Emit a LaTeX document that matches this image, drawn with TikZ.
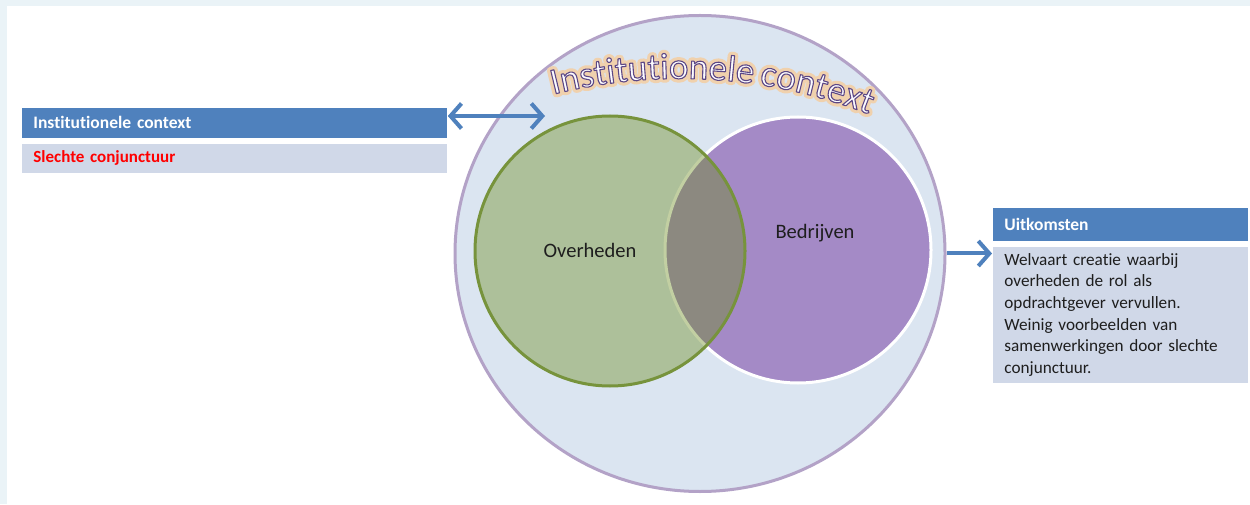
\documentclass[tikz,border=0pt]{standalone}
\usepackage{fontspec}
\setmainfont{Carlito}[Ligatures=CommonOff,WordSpace=0.75]
\usetikzlibrary{arrows.meta,decorations.text,shapes.geometric}

\definecolor{frameblue}{HTML}{EAF3F7}
\definecolor{ctxfill}{HTML}{DBE5F1}
\definecolor{ctxline}{HTML}{B3A2C7}
\definecolor{govfill}{RGB}{104,137,24}
\definecolor{govline}{HTML}{77933C}
\definecolor{bizfill}{HTML}{A48AC6}
\definecolor{hdrblue}{HTML}{4F81BD}
\definecolor{bodyblue}{HTML}{D0D8E8}
\definecolor{txtdark}{HTML}{1E1E1E}
\definecolor{glowin}{HTML}{F0D2AE}
\definecolor{wordfill}{HTML}{FCFBFF}

% font of the arched title
\newcommand\arcfont{\fontsize{37}{37}\selectfont}
% glyph painting: fill and stroke, with stroke colour and width given
\newcommand\strokeglyphs[2]{\special{pdf:literal direct #1 RG #2 w 1 j 2 Tr}}
% the arched title, glyphs in colour #1, stroked with colour #2 at width #3
\newcommand\ctxarc[3]{%
  \path[decorate,decoration={text along path,text align=center,text color=#1,
        text={|\arcfont\color{#1}\strokeglyphs{#2}{#3}|Institutionele context}}]
    (ctxA) arc[start angle=110,end angle=62.8,radius=520pt];}

\begin{document}
\begin{tikzpicture}[x=1pt,y=1pt,
  hdr/.style={draw=white,line width=0.8pt,fill=hdrblue,text=white,
    font=\fontsize{17.5}{21}\selectfont\bfseries,anchor=north west,
    inner xsep=12pt,inner ysep=0pt,align=left},
  bodybox/.style={draw=white,line width=0.8pt,fill=bodyblue,anchor=north west,
    inner xsep=12pt,inner ysep=0pt,align=left},
  lbl/.style={text=txtdark,font=\fontsize{20.5}{24}\selectfont,inner sep=0pt},
  conn/.style={draw=hdrblue,line width=4pt,>={Straight Barb[length=11pt,width=25pt]}}]

\useasboundingbox (0,0) rectangle (1250,504);
\fill[white] (0,0) rectangle (1250,504);
\fill[frameblue] (0,498) rectangle (1250,504);
\fill[frameblue] (0,0) rectangle (7,504);

% context ellipse and the two sets
\node[ellipse,draw=ctxline,line width=3pt,fill=ctxfill,
      minimum width=490pt,minimum height=476pt,inner sep=0pt] (outer) at (700,250.5) {};
\node[circle,draw=white,line width=3pt,fill=bizfill,
      minimum size=266pt,inner sep=0pt] (biz) at (798,254) {};
\node[circle,draw=govline,line width=3pt,fill=govfill,fill opacity=0.4,
      minimum size=270pt,inner sep=0pt] (gov) at (610,253) {};

\node[lbl] (govlabel) at (590,254) {Overheden};
\node[lbl] (bizlabel) at (815,271) {Bedrijven};

% arched title: soft glow underneath, then outlined glyphs
\coordinate (ctxA) at (502.15,393.94);
\ctxarc{glowin}{0.94 0.82 0.68}{7.5}
\ctxarc{wordfill}{0.36 0.28 0.52}{1.1}

% left panel
\node[hdr,text width=402pt,minimum height=31pt] (lhead) at (21,397)
  {Institutionele context};
\node[bodybox,text width=402pt,minimum height=30pt,text=red,
      font=\fontsize{17}{21}\selectfont\bfseries] (lbody) at (21,361)
  {Slechte conjunctuur};

% right panel
\node[hdr,text width=232pt,minimum height=34pt] (rhead) at (992,297)
  {Uitkomsten};
\node[bodybox,text width=232pt,minimum height=137pt,text=txtdark,
      font=\fontsize{17.2}{21.7}\selectfont] (rbody) at (992,258)
  {Welvaart creatie waarbij\\
   overheden de rol als\\
   opdrachtgever vervullen.\\
   Weinig voorbeelden van\\
   samenwerkingen door slechte\\
   conjunctuur.};

% connectors
\coordinate (ctxpt) at (545,388);
\draw[conn,<->] (lhead.east |- ctxpt) -- (ctxpt);
\draw[conn,->] (outer.east) -- (outer.east -| rbody.west);
\end{tikzpicture}
\end{document}
